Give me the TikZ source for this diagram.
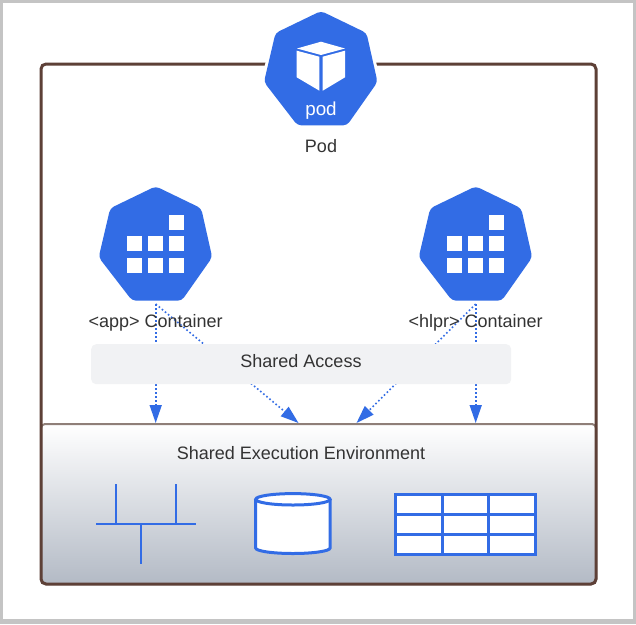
\documentclass[tikz,border=0pt]{standalone}
\usepackage{fontspec}
\setmainfont{Liberation Sans}
\usetikzlibrary{arrows.meta}
\definecolor{kblue}{HTML}{326CE5}
\definecolor{framebrown}{HTML}{5D4037}
\definecolor{panelline}{HTML}{8F7F78}
\definecolor{panelbottom}{HTML}{B3BAC5}
\definecolor{accessfill}{HTML}{F1F2F4}
\definecolor{txt}{HTML}{333333}
\definecolor{edgegray}{HTML}{C4C4C4}
\tikzset{
  heptagon/.style={fill=kblue,rounded corners=4pt},
  halo/.style={draw=white,line width=6pt,line join=round},
  label text/.style={text=txt,font=\fontsize{18}{22}\selectfont,inner sep=0pt},
  link/.style={kblue,line width=1.6pt,dash pattern=on 1.6pt off 2.4pt,
    -{Triangle[length=18pt,width=12pt,kblue]}},
  stroke icon/.style={kblue,line width=2pt},
  bold icon/.style={draw=kblue,line width=3pt,fill=white},
}
% heptagon outline, with its top vertex at (#1,#2)
\newcommand{\heptpath}[2]{
  (#1,{#2-1}) -- ({#1+45.5},{#2+21}) -- ({#1+56.5},{#2+70}) -- ({#1+26},{#2+113.4})
  -- ({#1-23.5},{#2+113.4}) -- ({#1-57},{#2+70}) -- ({#1-45.5},{#2+21}) -- cycle}
% squares of a container icon, offset by #1
\newcommand{\gridicon}[1]{
  \foreach \cx/\cy in {169/215,127.3/236.3,148.3/236.3,169/236.3,127.3/257.7,148.3/257.7,169/257.7}
    \fill[white] ({\cx+#1},\cy) rectangle ++(15,15);}
\begin{document}
\begin{tikzpicture}[x=1pt,y=-1pt]
\useasboundingbox (0,0) rectangle (636,624);
\fill[edgegray] (0,0) rectangle (636,624);
\fill[white] (3,3) rectangle (633,619);

% lower panel
\node[name=panel,anchor=north west,minimum width=555pt,minimum height=160pt,inner sep=0pt,outer sep=0pt,
  rounded corners=4pt,draw=panelline,line width=2pt,top color=white,bottom color=panelbottom] at (41,424) {};
% outer frame
\node[name=frame,anchor=north west,minimum width=555pt,minimum height=520pt,inner sep=0pt,outer sep=0pt,
  rounded corners=5pt,draw=framebrown,line width=3pt] at (41,64) {};

% connector ends
\coordinate (appout) at (155.7,304);
\coordinate (hlprout) at (475.7,304);
\coordinate (appdown) at (155.7,423);
\coordinate (appdiag) at (298.5,423);
\coordinate (hlprdiag) at (356.5,423);
\coordinate (hlprdown) at (475.7,423);
\draw[link] (appout) -- (appdown);
\draw[link] (appout) -- (appdiag);
\draw[link] (hlprout) -- (hlprdiag);
\draw[link] (hlprout) -- (hlprdown);

% shared access band
\node[name=access,anchor=north west,minimum width=420pt,minimum height=40pt,inner sep=0pt,
  rounded corners=5pt,fill=accessfill] at (91,344) {};
\node[name=accesstext,label text] at (301,361.5) {Shared Access};

% pod icon
\draw[halo] \heptpath{321}{12};
\fill[heptagon] \heptpath{321}{12};
\fill[white] (321,41.7) -- (345,48.5) -- (321,55) -- (297,48.5) -- cycle;
\fill[white] (296.7,50.7) -- (319.4,56.7) -- (319.4,90.7) -- (296.7,77.3) -- cycle;
\fill[white] (322.7,56.7) -- (345,50.7) -- (345,77.3) -- (322.7,90.7) -- cycle;
\node[name=podword,text=white,font=\fontsize{18.8}{22}\selectfont,inner sep=0pt] at (321,110.5) {pod};
\node[name=podlabel,label text] at (321,146.5) {Pod};

% containers
\fill[heptagon] \heptpath{155.7}{187.3};
\gridicon{0}
\node[name=applabel,label text] at (155.7,323) {<app> Container};
\fill[heptagon] \heptpath{475.7}{187.3};
\gridicon{320}
\node[name=hlprlabel,label text] at (475.7,323) {<hlpr> Container};

% panel title
\node[name=paneltext,label text] at (301,453.5) {Shared Execution Environment};

% bus icon
\draw[stroke icon] (96,524) -- (196,524);
\draw[stroke icon] (116,484) -- (116,524);
\draw[stroke icon] (176,484) -- (176,524);
\draw[stroke icon] (140.7,524) -- (140.7,564);

% cylinder icon
\draw[bold icon] (255.7,499.3) -- (255.7,548) arc[start angle=180,end angle=360,x radius=37.2,y radius=-5.5]
  -- (330.1,499.3);
\draw[bold icon] (292.9,499.3) ellipse[x radius=37.2,y radius=5.7];

% table icon
\draw[bold icon] (395.7,494.7) rectangle (535.7,554);
\draw[kblue,line width=3pt] (442.3,494.7) -- (442.3,554) (488.3,494.7) -- (488.3,554)
  (395.7,514.3) -- (535.7,514.3) (395.7,534.3) -- (535.7,534.3);
\end{tikzpicture}
\end{document}
